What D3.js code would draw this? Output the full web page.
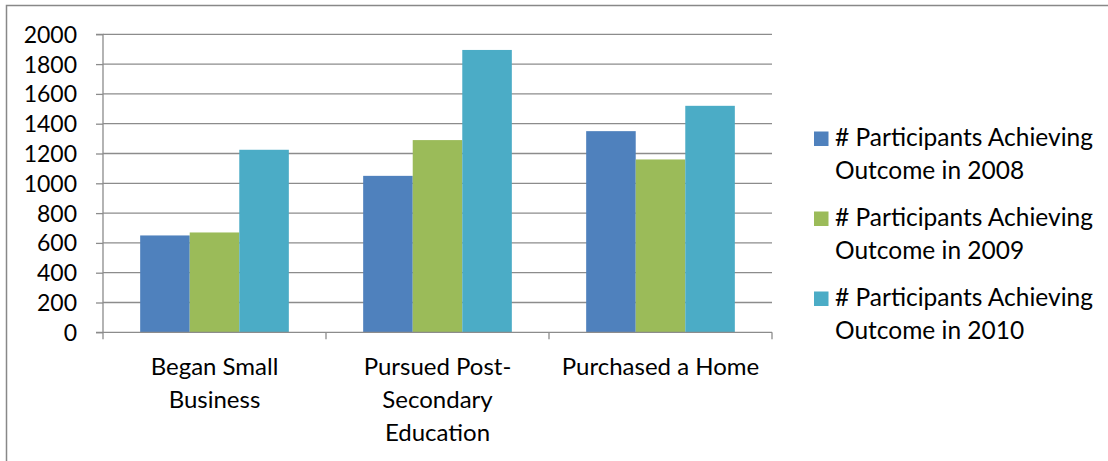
<!DOCTYPE html>
<html><head><meta charset="utf-8">
<script src="https://cdn.jsdelivr.net/npm/d3@7"></script>
<style>body{margin:0;background:#fff}svg{display:block}text{font-family:Lato,"Open Sans",sans-serif;fill:#000}</style>
</head><body>
<svg id="c" width="1108" height="461"></svg>
<script>
const categories = [["Began Small","Business"],["Pursued Post-","Secondary","Education"],["Purchased a Home"]];
const seriesNames = [["# Participants Achieving","Outcome in 2008"],["# Participants Achieving","Outcome in 2009"],["# Participants Achieving","Outcome in 2010"]];
const values2008 = [650, 1050, 1350];
const values2009 = [670, 1290, 1160];
const values2010 = [1225, 1895, 1520];
const colors = ["#4f81bd","#9bbb59","#4bacc6"];
const yTicks = [0,200,400,600,800,1000,1200,1400,1600,1800,2000];

const svg = d3.select("#c");
const series = [values2008, values2009, values2010];
const L = 103, R = 772, T = 34.3, B = 332.3;

svg.append("path").attr("d", `M6.5,470V5.5H1120`).attr("fill","none").attr("stroke","#888").attr("stroke-width",1.5);

const x = d3.scaleBand().domain(d3.range(categories.length)).range([L, R]).paddingInner(0).paddingOuter(0);
const xs = d3.scaleBand().domain(d3.range(series.length)).range([0, x.bandwidth()]).paddingInner(0).paddingOuter(0.75);
const y = d3.scaleLinear().domain([0, 2000]).range([B, T]);

// gridlines
svg.append("g").selectAll("line").data(yTicks.slice(1)).join("line")
  .attr("x1", L).attr("x2", R).attr("y1", d => y(d)).attr("y2", d => y(d))
  .attr("stroke", "#8c8c8c").attr("stroke-width", 1.3);

// bars
series.forEach((vals, si) => {
  svg.append("g").selectAll("rect").data(vals).join("rect")
    .attr("x", (d, i) => x(i) + xs(si))
    .attr("width", xs.bandwidth())
    .attr("y", d => y(d))
    .attr("height", d => B - y(d))
    .attr("fill", colors[si]);
});

// y axis
const yAxis = d3.axisLeft(y).tickValues(yTicks).tickSize(7).tickPadding(19).tickFormat(d3.format("d"));
const ga = svg.append("g").attr("transform", `translate(${L},0)`).call(yAxis);
ga.select(".domain").attr("stroke", "#8c8c8c").attr("stroke-width", 1.3).attr("d", `M-7,${T}H0V${B}H-7`);
ga.selectAll(".tick line").attr("stroke", "#8c8c8c").attr("stroke-width", 1.3);
ga.selectAll(".tick text").attr("font-size", 23).attr("font-family", "Lato").attr("fill", "#000").attr("dy", "0.35em");

// x axis
const xAxisLine = svg.append("g");
xAxisLine.append("line").attr("x1", L).attr("x2", R).attr("y1", B).attr("y2", B).attr("stroke", "#8c8c8c").attr("stroke-width", 1.3);
const xTickPos = d3.range(categories.length + 1).map(i => i < categories.length ? x(i) : x(i-1) + x.bandwidth());
xAxisLine.selectAll(".xt").data(xTickPos).join("line").attr("class","xt")
  .attr("x1", d => d).attr("x2", d => d).attr("y1", B).attr("y2", B + 7)
  .attr("stroke", "#8c8c8c").attr("stroke-width", 1.3);

categories.forEach((lines, i) => {
  const t = svg.append("text").attr("text-anchor", "middle").attr("font-size", 24)
    .attr("x", x(i) + x.bandwidth()/2).attr("y", 375);
  lines.forEach((ln, j) => t.append("tspan").attr("x", x(i) + x.bandwidth()/2).attr("y", 375 + j*33).text(ln));
});

// legend
const lg = svg.append("g");
seriesNames.forEach((lines, i) => {
  const yy = 131.5 + i*80;
  lg.append("rect").attr("x", 814).attr("y", yy).attr("width", 14.5).attr("height", 14.5).attr("fill", colors[i]);
  const t = lg.append("text").attr("font-size", 24.5);
  lines.forEach((ln, j) => t.append("tspan").attr("x", 835).attr("y", yy + 14.5 + j*33).text(ln));
});
</script>
</body></html>
